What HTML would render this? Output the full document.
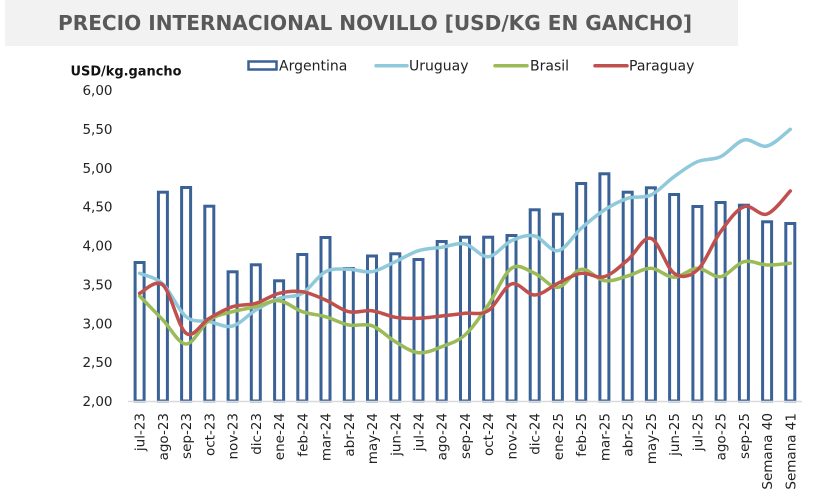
<!DOCTYPE html>
<html><head><meta charset="utf-8"><style>
html,body{margin:0;padding:0;background:#fff;}
svg{display:block;}
text{font-family:"DejaVu Sans","Liberation Sans",sans-serif;}
</style></head><body>
<svg width="840" height="496" viewBox="0 0 840 496" xmlns="http://www.w3.org/2000/svg">
<rect x="0" y="0" width="840" height="496" fill="#fff"/>
<rect x="5" y="0" width="733" height="46" fill="#F2F2F2"/>
<text x="58" y="30" font-size="20" font-weight="bold" fill="#595959" textLength="634" lengthAdjust="spacingAndGlyphs">PRECIO INTERNACIONAL NOVILLO [USD/KG EN GANCHO]</text>

<text x="70.5" y="75.5" font-size="13.5" font-weight="bold" fill="#111" textLength="111" lengthAdjust="spacingAndGlyphs">USD/kg.gancho</text>

<!-- legend -->
<rect x="248.5" y="61.5" width="28" height="8" fill="#fff" stroke="#3A6296" stroke-width="2.5"/>
<text x="279" y="70.5" font-size="14" fill="#222">Argentina</text>
<line x1="376" y1="65.7" x2="407" y2="65.7" stroke="#8FC9DB" stroke-width="3.5" stroke-linecap="round"/>
<text x="409" y="70.5" font-size="14" fill="#222">Uruguay</text>
<line x1="495" y1="65.7" x2="527" y2="65.7" stroke="#9BBB59" stroke-width="3.5" stroke-linecap="round"/>
<text x="530" y="70.5" font-size="14" fill="#222">Brasil</text>
<line x1="595" y1="65.7" x2="627" y2="65.7" stroke="#C0504D" stroke-width="3.5" stroke-linecap="round"/>
<text x="629" y="70.5" font-size="14" fill="#222">Paraguay</text>

<!-- y labels -->
<g font-size="13.5" fill="#222" text-anchor="end">
<text x="112.5" y="95">6,00</text>
<text x="112.5" y="133.9">5,50</text>
<text x="112.5" y="172.8">5,00</text>
<text x="112.5" y="211.6">4,50</text>
<text x="112.5" y="250.5">4,00</text>
<text x="112.5" y="289.4">3,50</text>
<text x="112.5" y="328.3">3,00</text>
<text x="112.5" y="367.1">2,50</text>
<text x="112.5" y="406">2,00</text>
</g>

<!-- bars -->
<g fill="#fff" stroke="#3A6296" stroke-width="3">
<rect x="135.1" y="262.5" width="9" height="138.5"/>
<rect x="158.4" y="192.2" width="9" height="208.8"/>
<rect x="181.6" y="187.5" width="9" height="213.5"/>
<rect x="204.8" y="206.2" width="9" height="194.8"/>
<rect x="228.1" y="271.8" width="9" height="129.2"/>
<rect x="251.3" y="264.8" width="9" height="136.2"/>
<rect x="274.6" y="280.8" width="9" height="120.2"/>
<rect x="297.8" y="254.5" width="9" height="146.5"/>
<rect x="321.0" y="237.5" width="9" height="163.5"/>
<rect x="344.3" y="268.5" width="9" height="132.5"/>
<rect x="367.5" y="256" width="9" height="145"/>
<rect x="390.8" y="253.8" width="9" height="147.2"/>
<rect x="414.0" y="259.5" width="9" height="141.5"/>
<rect x="437.2" y="241.5" width="9" height="159.5"/>
<rect x="460.5" y="237.2" width="9" height="163.8"/>
<rect x="483.7" y="237.2" width="9" height="163.8"/>
<rect x="507.0" y="235.5" width="9" height="165.5"/>
<rect x="530.2" y="209.8" width="9" height="191.2"/>
<rect x="553.4" y="214.2" width="9" height="186.8"/>
<rect x="576.7" y="183.5" width="9" height="217.5"/>
<rect x="599.9" y="173.8" width="9" height="227.2"/>
<rect x="623.2" y="192.2" width="9" height="208.8"/>
<rect x="646.4" y="187.8" width="9" height="213.2"/>
<rect x="669.6" y="194.5" width="9" height="206.5"/>
<rect x="692.9" y="206.5" width="9" height="194.5"/>
<rect x="716.1" y="202.5" width="9" height="198.5"/>
<rect x="739.4" y="205.2" width="9" height="195.8"/>
<rect x="762.6" y="221.8" width="9" height="179.2"/>
<rect x="785.8" y="223.5" width="9" height="177.5"/>
</g>

<line x1="128" y1="401.5" x2="802" y2="401.5" stroke="#D9D9D9" stroke-width="1.5"/>

<!-- lines -->
<g fill="none" stroke-width="3.5" stroke-linecap="round" stroke-linejoin="round">
<path stroke="#8FC9DB" d="M139.6,273.3 C143.47,275.08 155.15,276.77 162.9,284 S178.35,310.42 186.1,316.7 S201.55,320.15 209.3,321.7 S224.85,327.95 232.6,326 S248.05,314.62 255.8,310 S271.35,301.08 279.1,298.3 S294.55,297.73 302.3,293.3 S317.75,275.7 325.5,271.7 S341.05,269.3 348.8,269.3 S364.25,272.97 372,271.7 S387.55,265.2 395.3,261.7 S410.75,253.1 418.5,250.7 S433.95,248.42 441.7,247.3 S457.25,242.43 465,244 S480.45,257.25 488.2,256.7 S503.75,244.15 511.5,240.7 S526.95,234.33 534.7,236 S550.15,251.98 557.9,250.7 S573.45,235.08 581.2,228.3 S596.65,215 604.4,210 S619.95,200.8 627.7,198.3 S643.15,198.6 650.9,195 S666.35,182.25 674.1,176.7 S689.65,165.03 697.4,161.7 S712.85,160.32 720.6,156.7 S736.15,141.78 743.9,140 S759.35,147.78 767.1,146 S786.43,132.08 790.3,129.3"/>
<path stroke="#9BBB59" d="M139.6,296 C143.47,300 155.15,312 162.9,320 S178.35,344 186.1,344 S201.55,325.38 209.3,320 S224.85,313.92 232.6,311.7 S248.05,308.53 255.8,306.7 S271.35,299.87 279.1,300.7 S294.55,309.03 302.3,311.7 S317.75,314.48 325.5,316.7 S341.05,323.5 348.8,325 S364.25,322.92 372,325.7 S387.55,337.2 395.3,341.7 S410.75,351.87 418.5,352.7 S433.95,349.65 441.7,346.7 S457.25,341.95 465,335 S480.45,316.12 488.2,305 S503.75,273.58 511.5,268.3 S526.95,270.13 534.7,273.3 S550.15,287.97 557.9,287.3 S573.45,270.4 581.2,269.3 S596.65,279.58 604.4,280.7 S619.95,278.07 627.7,276 S643.15,268.08 650.9,268.3 S666.35,277.3 674.1,277.3 S689.65,268.4 697.4,268.3 S712.85,277.8 720.6,276.7 S736.15,263.65 743.9,261.7 S759.35,264.73 767.1,265 S786.43,263.58 790.3,263.3"/>
<path stroke="#C0504D" d="M139.6,293.3 C143.47,291.92 155.15,278.33 162.9,285 S178.35,327.75 186.1,333.3 S201.55,322.73 209.3,318.3 S224.85,309.2 232.6,306.7 S248.05,305.53 255.8,303.3 S271.35,295.23 279.1,293.3 S294.55,290.58 302.3,291.7 S317.75,296.67 325.5,300 S341.05,309.92 348.8,311.7 S364.25,309.77 372,310.7 S387.55,316.03 395.3,317.3 S410.75,318.52 418.5,318.3 S433.95,316.83 441.7,316 S457.25,314.18 465,313.3 S480.45,315.58 488.2,310.7 S503.75,286.62 511.5,284 S526.95,295.12 534.7,295 S550.15,286.92 557.9,283.3 S573.45,274.4 581.2,273.3 S596.65,278.92 604.4,276.7 S619.95,266.4 627.7,260 S643.15,236.08 650.9,238.3 S666.35,268.02 674.1,273.3 S689.65,276.93 697.4,270 S712.85,242.25 720.6,231.7 S736.15,209.65 743.9,206.7 S759.35,216.62 767.1,214 S786.43,194.83 790.3,191"/>
</g>

<!-- x labels -->
<g font-size="13.5" fill="#222" text-anchor="end">
<text transform="translate(144.6,413) rotate(-90)">jul-23</text>
<text transform="translate(167.9,413) rotate(-90)">ago-23</text>
<text transform="translate(191.1,413) rotate(-90)">sep-23</text>
<text transform="translate(214.3,413) rotate(-90)">oct-23</text>
<text transform="translate(237.6,413) rotate(-90)">nov-23</text>
<text transform="translate(260.8,413) rotate(-90)">dic-23</text>
<text transform="translate(284.1,413) rotate(-90)">ene-24</text>
<text transform="translate(307.3,413) rotate(-90)">feb-24</text>
<text transform="translate(330.5,413) rotate(-90)">mar-24</text>
<text transform="translate(353.8,413) rotate(-90)">abr-24</text>
<text transform="translate(377.0,413) rotate(-90)">may-24</text>
<text transform="translate(400.3,413) rotate(-90)">jun-24</text>
<text transform="translate(423.5,413) rotate(-90)">jul-24</text>
<text transform="translate(446.7,413) rotate(-90)">ago-24</text>
<text transform="translate(470.0,413) rotate(-90)">sep-24</text>
<text transform="translate(493.2,413) rotate(-90)">oct-24</text>
<text transform="translate(516.5,413) rotate(-90)">nov-24</text>
<text transform="translate(539.7,413) rotate(-90)">dic-24</text>
<text transform="translate(562.9,413) rotate(-90)">ene-25</text>
<text transform="translate(586.2,413) rotate(-90)">feb-25</text>
<text transform="translate(609.4,413) rotate(-90)">mar-25</text>
<text transform="translate(632.7,413) rotate(-90)">abr-25</text>
<text transform="translate(655.9,413) rotate(-90)">may-25</text>
<text transform="translate(679.1,413) rotate(-90)">jun-25</text>
<text transform="translate(702.4,413) rotate(-90)">jul-25</text>
<text transform="translate(725.6,413) rotate(-90)">ago-25</text>
<text transform="translate(748.9,413) rotate(-90)">sep-25</text>
<text transform="translate(772.1,413) rotate(-90)">Semana 40</text>
<text transform="translate(795.3,413) rotate(-90)">Semana 41</text>
</g>
</svg>
</body></html>
